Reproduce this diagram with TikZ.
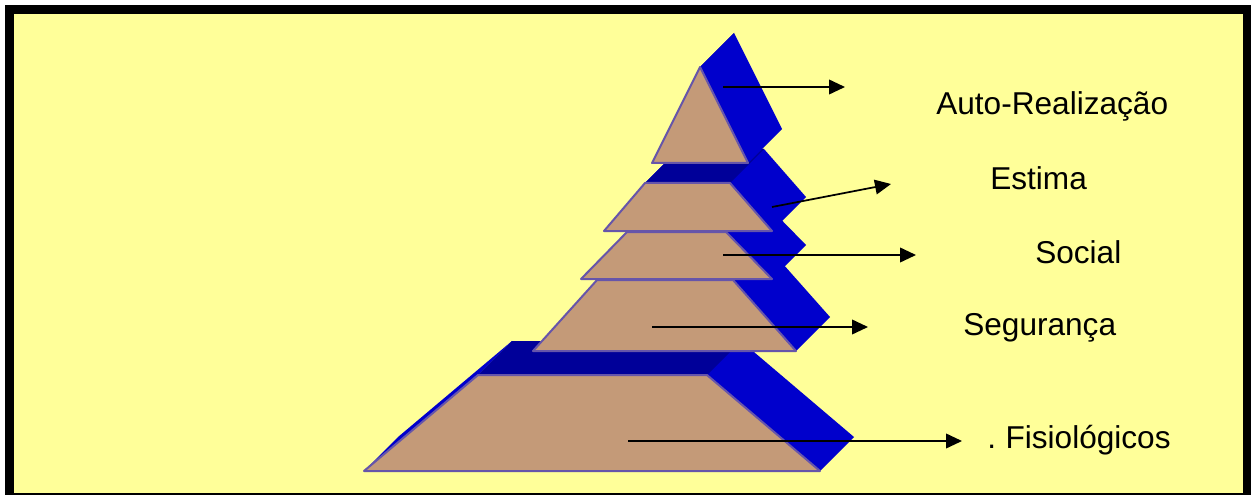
\documentclass[tikz,border=0pt]{standalone}
\usepackage{fontspec}
\setmainfont{Liberation Sans}
\usetikzlibrary{arrows.meta}
\definecolor{paper}{HTML}{FFFF99}
\definecolor{stone}{HTML}{C49A78}
\definecolor{side}{HTML}{0000CC}
\definecolor{roof}{HTML}{000099}
\definecolor{rim}{HTML}{6655AA}
\tikzset{
  face/.style={fill=stone,draw=rim,line width=1.5pt,line join=round},
  arr/.style={-{Triangle[length=12pt,width=11pt]},line width=1.3pt,color=black},
  lbl/.style={font=\fontsize{23.7}{28}\selectfont,anchor=base west,inner sep=0pt}}
\begin{document}
\begin{tikzpicture}[x=0.75pt,y=-0.75pt]
\useasboundingbox (0,0) rectangle (1251,495);
\fill[white] (0,0) rectangle (1251,495);
\fill[black] (5,5) rectangle (1251,495);
\fill[paper] (14,14) rectangle (1243,493);
% layers, bottom first: top-left/top-right/top y/bottom-left/bottom-right/bottom y
\foreach \tl/\tr/\ty/\bl/\br/\by in {478/707/375/364/820/471,
    597/733/280/533/796/351, 627/726/232/581/772/279,
    645/730/183/604/772/231, 700/700/67/652/748/163}{
  \fill[side] (\bl,\by) -- (\tl,\ty) -- (\tl+34,\ty-34) -- (\tr+34,\ty-34)
    -- (\br+34,\by-34) -- (\br,\by) -- cycle;
  \fill[side] (\bl,\by) -- (\bl+34,\by-34) -- (\tl+34,\ty-34) -- (\tl,\ty) -- cycle;
  \fill[roof] (\tl,\ty) -- (\tl+34,\ty-34) -- (\tr+34,\ty-34) -- (\tr,\ty) -- cycle;
  \draw[face] (\bl,\by) -- (\tl,\ty) -- (\tr,\ty) -- (\br,\by) -- cycle;
}
\node[lbl] (auto) at (936,115) {Auto-Realização};
\node[lbl] (estima) at (990,190) {Estima};
\node[lbl] (social) at (1035,263) {Social};
\node[lbl] (seg) at (963,335) {Segurança};
\node[lbl] (fisio) at (987,448) {.\hspace{0.3em}Fisiológicos};
\coordinate (t1) at (723,87);  \coordinate (h1) at (845,87);
\coordinate (t2) at (772,207); \coordinate (h2) at (891,184);
\coordinate (t3) at (723,255); \coordinate (h3) at (916,255);
\coordinate (t4) at (652,327); \coordinate (h4) at (868,327);
\coordinate (t5) at (628,441); \coordinate (h5) at (962,441);
\foreach \i in {1,...,5}
  \draw[arr] (t\i) -- (h\i);
\end{tikzpicture}
\end{document}
